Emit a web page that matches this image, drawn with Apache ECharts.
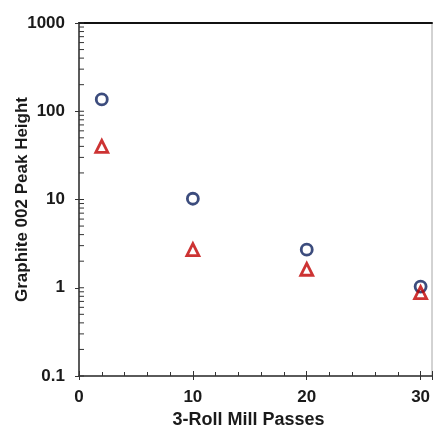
<!DOCTYPE html>
<html>
<head>
<meta charset="utf-8">
<script src="https://cdn.jsdelivr.net/npm/echarts@6/dist/echarts.min.js"></script>
<style>
  html, body { margin: 0; padding: 0; background: #fff; }
  #chart { width: 433px; height: 425px; }
</style>
</head>
<body>
<div id="chart"></div>
<script>
// passes through the 3-roll mill
const passes = [2, 10, 20, 30];
// graphite 002 peak height, two sample sets
const circleHeights = [136, 10.2, 2.7, 1.03];
const triangleHeights = [40, 2.7, 1.62, 0.88];
// log axis decades for minor ticks
const decades = [0.1, 1, 10, 100];
const minorSteps = [2, 3, 4, 5, 6, 7, 8, 9];

const font = '"Liberation Sans", Arial, sans-serif';
const chart = echarts.init(document.getElementById('chart'), null, { renderer: 'canvas' });

const minorVals = [];
decades.forEach(d => minorSteps.forEach(s => minorVals.push([0, +(d * s).toPrecision(3)])));

const option = {
  backgroundColor: '#fff',
  animation: false,
  grid: {
    left: 79, top: 23, right: 1, bottom: 49, outerBoundsMode: 'none', containLabel: false,
    show: true, borderColor: '#a6a6a6', borderWidth: 1
  },
  xAxis: [
    {
      type: 'value', min: 0, max: 31, interval: 10,
      name: '3-Roll Mill Passes', nameLocation: 'middle', nameGap: 35, nameMoveOverlap: false,
      nameTextStyle: { fontFamily: font, fontWeight: 'bold', fontSize: 18, color: '#1a1a1a', padding: [0, 14, 0, 0] },
      axisLine: { lineStyle: { color: '#333', width: 1.5 } },
      axisTick: { inside: true, length: 5, lineStyle: { color: '#333' } },
      minorTick: { show: true, splitNumber: 5, length: 4, lineStyle: { color: '#333' } },
      axisLabel: {
        fontFamily: font, fontWeight: 'bold', fontSize: 17, color: '#1a1a1a', margin: 13,
        formatter: v => (v % 10 === 0 && v <= 30 ? String(v) : '')
      },
      splitLine: { show: false }
    },
    {
      type: 'value', min: 0, max: 31, interval: 10, position: 'bottom',
      axisLine: { show: false },
      axisTick: { inside: false, length: 4, lineStyle: { color: '#333' } },
      axisLabel: { show: false }, splitLine: { show: false }
    },
    {
      type: 'value', min: 0, max: 31, position: 'top',
      axisLine: { lineStyle: { color: '#111', width: 2 } },
      axisTick: { show: false }, axisLabel: { show: false }, splitLine: { show: false }
    }
  ],
  yAxis: {
    type: 'log', min: 0.1, max: 1000, logBase: 10,
    name: 'Graphite 002 Peak Height', nameLocation: 'middle', nameGap: 48, nameMoveOverlap: false,
    nameTextStyle: { fontFamily: font, fontWeight: 'bold', fontSize: 17, color: '#1a1a1a' },
    axisLine: { show: true, lineStyle: { color: '#333', width: 1.5 } },
    axisTick: { show: true, inside: false, length: 4, lineStyle: { color: '#333' } },
    axisLabel: {
      fontFamily: font, fontWeight: 'bold', fontSize: 17, color: '#1a1a1a', margin: 14,
      formatter: v => String(+v.toPrecision(3))
    },
    splitLine: { show: false }
  },
  series: [
    {
      // minor log ticks and inside part of major ticks
      type: 'custom', xAxisIndex: 0, silent: true,
      data: minorVals.concat([[0, 0.1], [0, 1], [0, 10], [0, 100], [0, 1000]]),
      renderItem: (params, api) => {
        const p = api.coord([api.value(0), api.value(1)]);
        return {
          type: 'line',
          shape: { x1: p[0], y1: p[1], x2: p[0] + 5, y2: p[1] },
          style: { stroke: '#333', lineWidth: 1 }
        };
      },
      z: 3
    },
    {
      type: 'scatter', xAxisIndex: 0,
      data: passes.map((x, i) => [x, circleHeights[i]]),
      symbol: 'circle', symbolSize: 11,
      itemStyle: { color: 'rgba(255,255,255,0)', borderColor: '#0b1f5c', borderWidth: 2.8 },
      z: 4
    },
    {
      type: 'scatter', xAxisIndex: 0,
      data: passes.map((x, i) => [x, triangleHeights[i]]),
      symbol: 'triangle', symbolSize: 12,
      itemStyle: { color: 'rgba(255,255,255,0)', borderColor: '#c00000', borderWidth: 2.8 },
      z: 5
    }
  ]
};

chart.setOption(option);
</script>
</body>
</html>
